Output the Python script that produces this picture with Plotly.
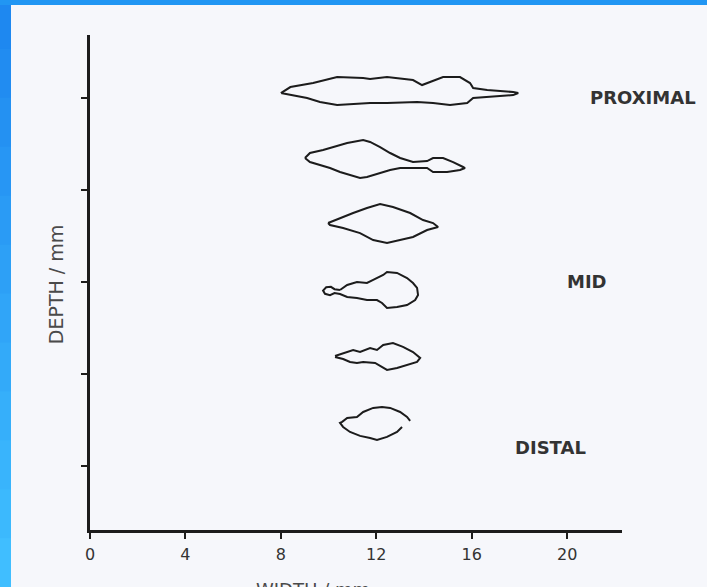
import plotly.graph_objects as go

# ---- data (width in mm, depth in mm) ----
section_names = ["proximal", "s2", "s3", "mid", "s5", "distal"]
section_depths = [9.46, 16.74, 23.70, 30.98, 38.15, 45.43]

# outline: widths (mm) and depth offsets (mm) relative to section depth
s1_w = [8.0, 8.4, 9.35, 10.36, 11.45, 11.74, 12.45, 13.54, 13.92, 14.26, 14.80, 15.51, 15.93, 16.06, 16.65, 17.74, 17.95,
        17.74, 16.65, 16.06, 15.81, 15.09, 14.38, 13.71, 12.45, 11.74, 10.36, 9.64, 9.10, 8.51, 8.0]
s1_d = [0, -0.65, -1.09, -1.74, -1.63, -1.52, -1.74, -1.41, -0.87, -1.20, -1.74, -1.74, -1.09, -0.54, -0.33, -0.11, 0,
        0.22, 0.43, 0.54, 1.09, 1.30, 1.09, 0.98, 1.09, 1.09, 1.30, 0.98, 0.54, 0.22, 0.0]

s2_w = [9.01, 9.22, 9.77, 10.19, 10.78, 11.45, 11.74, 12.16, 12.58, 13.0, 13.54, 14.13, 14.38, 14.80, 15.22, 15.64, 15.72,
        15.51, 14.97, 14.38, 14.13, 13.71, 13.0, 12.58, 12.16, 11.61, 11.32, 10.90, 10.48, 10.06, 9.64, 9.22, 9.01]
s2_d = [-0.22, -0.76, -1.09, -1.41, -1.85, -2.17, -1.96, -1.41, -0.76, -0.22, 0.22, 0.11, -0.22, -0.22, 0.22, 0.76, 0.87,
        1.09, 1.30, 1.30, 0.87, 0.87, 0.87, 1.09, 1.41, 1.85, 1.96, 1.63, 1.30, 0.87, 0.54, 0.22, -0.22]

s3_w = [9.98, 10.48, 11.03, 11.61, 12.16, 12.70, 13.42, 13.96, 14.38, 14.59,
        14.13, 13.54, 13.0, 12.45, 11.87, 11.32, 10.61, 10.06, 9.98]
s3_d = [-0.11, -0.65, -1.20, -1.74, -2.17, -1.85, -1.20, -0.43, -0.11, 0.33,
        0.65, 1.41, 1.74, 2.07, 1.74, 0.98, 0.43, 0.11, -0.11]

s4_w = [10.48, 10.78, 11.19, 11.61, 11.87, 12.29, 12.45, 12.87, 13.29, 13.54, 13.71, 13.75, 13.63, 13.29, 12.87, 12.45,
        12.24, 12.03, 11.61, 11.19, 10.78, 10.48, 10.25, 10.06, 9.85, 9.77, 9.90, 10.10, 10.25, 10.48]
s4_d = [-0.11, -0.65, -0.98, -0.87, -1.20, -1.74, -2.07, -1.96, -1.41, -0.87, -0.33, 0.43, 0.98, 1.52, 1.74, 1.85,
        1.30, 0.98, 0.98, 0.76, 0.65, 0.33, 0.22, 0.45, 0.30, -0.05, -0.40, -0.45, -0.20, -0.11]

s5_w = [10.27, 10.61, 11.03, 11.32, 11.74, 12.03, 12.29, 12.70, 13.12, 13.54, 13.84,
        13.71, 13.29, 12.87, 12.45, 12.24, 11.95, 11.45, 11.19, 10.90, 10.61, 10.27]
s5_d = [-0.11, -0.43, -0.76, -0.54, -0.98, -0.76, -1.30, -1.52, -1.09, -0.54, 0.11,
        0.54, 0.87, 1.20, 1.41, 1.09, 0.65, 0.54, 0.65, 0.54, 0.22, 0.0]

s6_w = [13.08, 12.87, 12.45, 12.03, 11.74, 11.32, 10.90, 10.61, 10.48, 10.57, 10.78, 11.19, 11.45, 11.87, 12.24,
        12.58, 13.0, 13.29, 13.42]
s6_d = [0.33, 0.87, 1.41, 1.74, 1.52, 1.30, 0.87, 0.33, -0.11, -0.22, -0.65, -0.76, -1.30, -1.74, -1.85,
        -1.74, -1.30, -0.76, -0.33]

outlines_w = [s1_w, s2_w, s3_w, s4_w, s5_w, s6_w]
outlines_d = [s1_d, s2_d, s3_d, s4_d, s5_d, s6_d]

x_ticks = [0, 4, 8, 12, 16, 20]
y_ticks = [10, 20, 30, 40, 50]
region_labels = ["PROXIMAL", "MID", "DISTAL"]
region_label_depths = [9.9, 29.9, 48.0]

INK = "#1c1c1c"
PAPER = "#f6f7fb"
FONT = "DejaVu Sans, Liberation Sans, Arial"

fig = go.Figure()
for name, depth, ws, ds in zip(section_names, section_depths, outlines_w, outlines_d):
    fig.add_trace(go.Scatter(
        x=ws, y=[depth + d for d in ds], mode="lines", name=name,
        line=dict(color=INK, width=2), showlegend=False, hoverinfo="skip"))

# label positions (paper x, left edges)
label_x = [0.936, 0.893, 0.795]
for txt, xp, yd in zip(region_labels, label_x, region_label_depths):
    fig.add_annotation(text=txt, x=xp, xref="paper", y=yd, yref="y",
                       xanchor="left", yanchor="middle", showarrow=False,
                       font=dict(family=FONT, size=18, color="#333333", weight="bold"))

fig.add_annotation(text="DEPTH / mm", textangle=-90, x=-0.088, xref="paper", y=0.495, yref="paper",
                   showarrow=False, font=dict(family=FONT, size=19, color="#4a4a4a"))
fig.add_annotation(text="WIDTH / mm", x=0.419, xref="paper", y=-0.094, yref="paper", yanchor="top",
                   showarrow=False, font=dict(family=FONT, size=18, color="#4a4a4a"))

# blue slide border
W, L, T, B, R = 707, 90, 35, 57, 85
pw, ph = W - L - R, 587 - T - B
def px_to_paper_x(px):
    return (px - L) / pw
def py_to_paper_y(py):
    return (587 - B - py) / ph

n = 12
top_c = (30, 136, 240)
bot_c = (64, 190, 255)
for i in range(n):
    f = i / (n - 1)
    c = tuple(int(top_c[k] + (bot_c[k] - top_c[k]) * f) for k in range(3))
    y0 = 587 * i / n
    y1 = 587 * (i + 1) / n + 1
    fig.add_shape(type="rect", xref="paper", yref="paper",
                  x0=px_to_paper_x(0), x1=px_to_paper_x(11),
                  y0=py_to_paper_y(y1), y1=py_to_paper_y(y0),
                  fillcolor="rgb(%d,%d,%d)" % c, line_width=0, layer="above")
fig.add_shape(type="rect", xref="paper", yref="paper",
              x0=px_to_paper_x(0), x1=px_to_paper_x(707),
              y0=py_to_paper_y(5), y1=py_to_paper_y(-1),
              fillcolor="rgb(33,150,243)", line_width=0, layer="above")

fig.update_xaxes(range=[0, 22.3], tickvals=x_ticks, ticktext=[str(v) for v in x_ticks],
                 showgrid=False, zeroline=False, showline=True, linecolor=INK, linewidth=3,
                 ticks="outside", ticklen=6, tickwidth=2, tickcolor=INK, ticklabelstandoff=2,
                 tickfont=dict(family=FONT, size=16, color="#333"))
fig.update_yaxes(range=[56.96, 3.15], tickvals=y_ticks, showticklabels=False,
                 showgrid=False, zeroline=False, showline=True, linecolor=INK, linewidth=3,
                 ticks="outside", ticklen=6, tickwidth=2, tickcolor=INK)

fig.update_layout(width=707, height=587, margin=dict(l=L, r=R, t=T, b=B),
                  paper_bgcolor=PAPER, plot_bgcolor=PAPER, showlegend=False)

fig.write_html("out.html")
